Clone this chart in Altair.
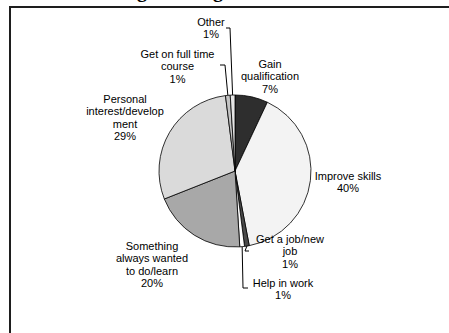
import math
import altair as alt
import pandas as pd

# ---- data ----
categories = ["Gain qualification", "Improve skills", "Get a job/new job", "Help in work",
              "Something always wanted to do/learn", "Personal interest/development",
              "Get on full time course", "Other"]
values = [7, 40, 1, 1, 20, 29, 1, 1]
label_text = ["Gain|qualification", "Improve skills", "Get a job/new|job", "Help in work",
              "Something|always wanted|to do/learn", "Personal|interest/develop|ment",
              "Get on full time|course", "Other"]
title_text = ["Reasons for doing learning"]

# ---- styles / layout ----
fills = ["#2e2e2e", "#f3f3f3", "#4a4a4a", "#ffffff", "#a8a8a8", "#dadada", "#c4c4c4", "#e6e6e6"]
W, H = 449, 333
CX, CY, R = 235, 171, 76
# label anchor: (x center, baseline of first line)
label_pos = [(270, 67.5), (348, 179.5), (290, 242.5), (283, 286.5),
             (152, 249.5), (125, 102.5), (177.5, 57.5), (211, 25.5)]
# leader elbows for thin slices (index -> points after the slice edge)
leaders = {7: [(230, 28), (226, 28)],
           6: [(225, 65), (220, 65)],
           2: [(245, 251), (249, 251)],
           3: [(243, 288), (248, 288)]}

total = sum(values)
pie_df = pd.DataFrame({"cat": categories, "val": values, "order": list(range(len(values)))})

lab_rows = []
for i, (c, v, t) in enumerate(zip(categories, values, label_text)):
    lab_rows.append({"cat": c, "label": f"{t}|{v}%", "x": label_pos[i][0], "y": label_pos[i][1]})
lab_df = pd.DataFrame(lab_rows)

lead_rows = []
cum = 0
for i, v in enumerate(values):
    mid = (cum + v / 2) / total * 2 * math.pi
    cum += v
    if i in leaders:
        ex, ey = CX + R * math.sin(mid), CY - R * math.cos(mid)
        pts = [(ex, ey)] + leaders[i]
        for k, (px, py) in enumerate(pts):
            lead_rows.append({"lid": i, "k": k, "x": px, "y": py})
lead_df = pd.DataFrame(lead_rows)

xs = alt.Scale(domain=[0, W], range=[0, W], nice=False, zero=False)
ys = alt.Scale(domain=[0, H], range=[0, H], nice=False, zero=False)

frame = alt.Chart(pd.DataFrame({"a": [0]})).mark_rect(
    fill="transparent", stroke="#1e1e1e", strokeWidth=2
).encode(x=alt.value(10), x2=alt.value(480), y=alt.value(7), y2=alt.value(370))

pie = alt.Chart(pie_df).mark_arc(
    outerRadius=R, stroke="#000000", strokeWidth=0.8
).encode(
    theta=alt.Theta("val:Q", stack=True),
    order=alt.Order("order:Q"),
    color=alt.Color("cat:N", scale=alt.Scale(domain=categories, range=fills), legend=None),
    x=alt.value(CX), y=alt.value(CY),
)

lead = alt.Chart(lead_df).mark_line(color="#000000", strokeWidth=1).encode(
    x=alt.X("x:Q", scale=xs, axis=None),
    y=alt.Y("y:Q", scale=ys, axis=None),
    detail="lid:N",
    order="k:Q",
)

labels = alt.Chart(lab_df).transform_calculate(
    lines="split(datum.label, '|')"
).mark_text(
    font="Liberation Sans", fontSize=11, align="center", baseline="alphabetic",
    lineHeight=12.5, color="#000000"
).encode(
    x=alt.X("x:Q", scale=xs, axis=None),
    y=alt.Y("y:Q", scale=ys, axis=None),
    text="lines:N",
)

title = alt.Chart(pd.DataFrame({"t": title_text})).mark_text(
    font="Liberation Serif", fontSize=20, fontWeight="bold", align="left",
    baseline="alphabetic", color="#000000"
).encode(x=alt.value(-6), y=alt.value(-3), text="t:N")

chart = alt.layer(frame, pie, lead, labels, title).properties(
    width=W, height=H, padding=0,
    autosize=alt.AutoSizeParams(type="none"),
    background="#ffffff",
).configure_view(stroke=None)

chart.save("out.html", embed_options={"renderer": "svg", "actions": False})
